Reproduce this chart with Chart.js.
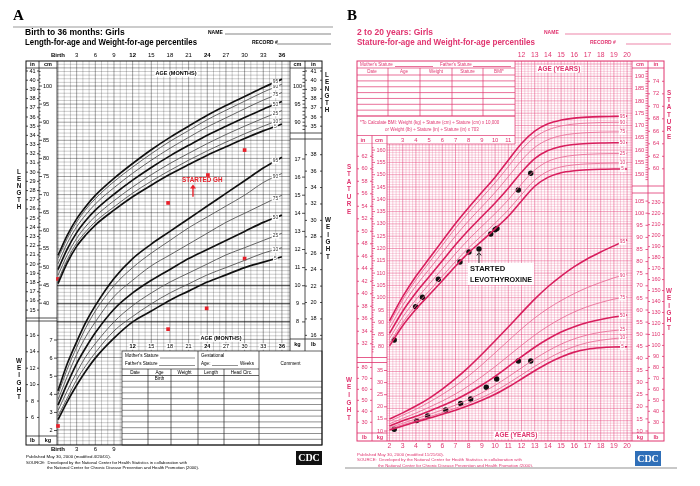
<!DOCTYPE html>
<html>
<head>
<meta charset="utf-8">
<script src="https://cdn.jsdelivr.net/npm/chart.js@4"></script>
<style>
  body { margin: 0; background: #fff; width: 700px; height: 486px; position: relative; overflow: hidden; }
  #chartA { position: absolute; left: 0; top: 0; }
  #chartB { position: absolute; left: 345px; top: 0; }
</style>
</head>
<body>
<canvas id="chartA" width="345" height="486"></canvas>
<canvas id="chartB" width="355" height="486"></canvas>
<script>
/* DATOS PANEL A: nacimiento a 36 meses, ninas */
const monthsA = [0, 1.5, 3, 4.5, 6, 9, 12, 15, 18, 21, 24, 27, 30, 33, 36];
const lenA5  = [45.4, 51.2, 55.7, 58.9, 61.6, 65.7, 69.4, 72.6, 75.6, 78.3, 80.9, 83.2, 85.5, 87.6, 89.5];
const lenA10 = [46.2, 52.1, 56.6, 59.8, 62.5, 66.6, 70.4, 73.7, 76.7, 79.5, 82.1, 84.5, 86.8, 88.9, 90.9];
const lenA25 = [47.7, 53.4, 57.9, 61.3, 64.0, 68.3, 72.1, 75.5, 78.6, 81.4, 84.1, 86.6, 88.9, 91.1, 93.2];
const lenA50 = [49.3, 55.0, 59.5, 62.9, 65.7, 70.1, 74.0, 77.5, 80.7, 83.6, 86.4, 88.9, 91.3, 93.6, 95.7];
const lenA75 = [50.9, 56.6, 61.1, 64.5, 67.4, 71.9, 75.9, 79.5, 82.8, 85.8, 88.7, 91.2, 93.7, 96.1, 98.2];
const lenA90 = [52.4, 57.9, 62.4, 66.0, 68.9, 73.6, 77.6, 81.3, 84.7, 87.7, 90.7, 93.3, 95.8, 98.3, 100.5];
const lenA95 = [53.2, 58.8, 63.3, 66.8, 69.8, 74.5, 78.6, 82.4, 85.8, 88.9, 91.9, 94.6, 97.1, 99.6, 101.9];

const wtA5  = [2.6, 3.6, 4.5, 5.3, 6.0, 7.1, 8.0, 8.6, 9.2, 9.7, 10.2, 10.6, 11.0, 11.3, 11.6];
const wtA10 = [2.8, 3.8, 4.8, 5.6, 6.3, 7.5, 8.3, 9.0, 9.6, 10.1, 10.6, 11.0, 11.4, 11.8, 12.1];
const wtA25 = [3.1, 4.2, 5.2, 6.1, 6.8, 8.0, 8.9, 9.6, 10.2, 10.7, 11.2, 11.7, 12.1, 12.5, 12.9];
const wtA50 = [3.4, 4.6, 5.7, 6.6, 7.4, 8.7, 9.6, 10.3, 10.9, 11.5, 12.0, 12.5, 13.0, 13.5, 13.9];
const wtA75 = [3.7, 5.0, 6.2, 7.2, 8.0, 9.4, 10.3, 11.1, 11.7, 12.3, 12.9, 13.5, 14.0, 14.5, 15.0];
const wtA90 = [4.0, 5.4, 6.6, 7.7, 8.6, 10.0, 11.0, 11.8, 12.5, 13.2, 13.8, 14.4, 15.0, 15.7, 16.2];
const wtA95 = [4.2, 5.7, 6.9, 8.0, 8.9, 10.4, 11.5, 12.3, 13.0, 13.7, 14.4, 15.1, 15.8, 16.5, 17.1];

/* paciente A */
const ghLenMonths = [0, 17.7, 24.1, 30.0];
const ghLength    = [46.7, 67.7, 75.4, 82.3];
const ghWtMonths  = [0, 17.7, 23.9, 30.0];
const ghWeight    = [2.25, 7.6, 8.75, 11.5];

/* DATOS PANEL B: 2 a 20 anos, ninas */
const agesB = [2, 3, 4, 5, 6, 7, 8, 9, 10, 11, 12, 13, 14, 15, 16, 17, 18, 19, 20];
const stB5  = [80.4, 88.6, 95.3, 101.1, 106.9, 112.8, 118.3, 123.1, 128.0, 133.1, 139.3, 145.3, 148.9, 150.8, 151.6, 152.0, 152.2, 152.3, 152.3];
const stB10 = [81.5, 89.9, 96.8, 102.7, 108.7, 114.7, 120.3, 125.3, 130.3, 135.7, 141.9, 147.8, 151.4, 153.2, 154.0, 154.4, 154.6, 154.7, 154.7];
const stB25 = [83.4, 92.1, 99.2, 105.5, 111.7, 117.9, 123.7, 129.0, 134.2, 139.8, 146.2, 151.9, 155.4, 157.1, 157.9, 158.3, 158.5, 158.6, 158.6];
const stB50 = [85.5, 94.5, 102.0, 108.5, 115.0, 121.5, 127.5, 133.0, 138.5, 144.5, 151.0, 156.5, 159.8, 161.5, 162.3, 162.7, 162.9, 163.0, 163.0];
const stB75 = [87.6, 96.9, 104.8, 111.5, 118.3, 125.1, 131.3, 137.0, 142.8, 149.2, 155.8, 161.1, 164.2, 165.9, 166.7, 167.1, 167.3, 167.4, 167.4];
const stB90 = [89.5, 99.1, 107.2, 114.3, 121.3, 128.3, 134.7, 140.7, 146.7, 153.3, 160.1, 165.2, 168.2, 169.8, 170.6, 171.0, 171.2, 171.3, 171.3];
const stB95 = [90.6, 100.4, 108.7, 115.9, 123.1, 130.2, 136.7, 142.9, 149.0, 155.9, 162.7, 167.7, 170.7, 172.2, 173.0, 173.4, 173.6, 173.7, 173.8];

const wtB5  = [10.4, 12.1, 13.7, 15.3, 16.9, 18.6, 20.5, 22.7, 25.2, 28.2, 31.5, 34.9, 38.0, 40.6, 42.6, 43.8, 44.4, 44.7, 44.8];
const wtB10 = [10.8, 12.6, 14.2, 15.9, 17.6, 19.4, 21.5, 23.8, 26.5, 29.7, 33.2, 36.7, 39.9, 42.7, 44.9, 46.5, 47.5, 48.2, 48.6];
const wtB25 = [11.4, 13.2, 15.0, 16.8, 18.7, 20.7, 23.1, 25.8, 28.9, 32.4, 36.1, 39.8, 43.1, 45.9, 48.1, 49.7, 50.8, 51.5, 52.0];
const wtB50 = [12.1, 14.2, 16.1, 18.2, 20.4, 22.9, 25.8, 29.0, 32.6, 36.6, 40.7, 44.6, 48.0, 50.9, 53.1, 54.8, 56.1, 57.1, 57.9];
const wtB75 = [13.0, 15.2, 17.4, 19.8, 22.4, 25.3, 28.7, 32.5, 36.6, 41.0, 45.4, 49.6, 53.3, 56.5, 59.2, 61.4, 63.1, 64.5, 65.5];
const wtB90 = [14.0, 16.5, 19.0, 21.9, 25.1, 28.7, 32.8, 37.4, 42.3, 47.3, 52.2, 56.7, 60.6, 63.9, 66.8, 69.3, 71.4, 73.3, 74.9];
const wtB95 = [15.0, 17.5, 20.3, 23.5, 27.3, 31.6, 36.4, 41.7, 47.3, 53.0, 58.8, 64.5, 69.6, 74.0, 77.9, 81.2, 84.0, 86.5, 89.0];

/* paciente B */
const lvStAges   = [2.36, 3.98, 4.5, 5.7, 7.34, 8.02, 8.78, 9.67, 10.0, 10.14, 11.76, 12.7];
const lvStature  = [82.8, 96.3, 100.2, 107.5, 114.5, 118.6, 119.8, 125.9, 127.6, 128.1, 143.8, 150.6];
const lvWtAges   = [2.36, 4.06, 4.89, 6.26, 7.39, 8.15, 9.33, 10.12, 11.76, 12.7];
const lvWeight   = [10.7, 14.3, 16.2, 18.7, 21.4, 23.2, 28.1, 31.5, 38.9, 38.9];

const pctNames = ['5', '10', '25', '50', '75', '90', '95'];
const topMonthTicks = ['Birth', '3', '6', '9', '12', '15', '18', '21', '24', '27', '30', '33', '36'];
const yearTicks = ['2','3','4','5','6','7','8','9','10','11','12','13','14','15','16','17','18','19','20'];

const FONT = '"Liberation Sans", Arial, sans-serif';
const PINK = '#e0346f';
const PINK_DARK = '#d81f5e';
const PINK_SOFT = '#ea6f99';

/* UTILIDADES DE DIBUJO */
function seg(ctx, x0, y0, x1, y1) { ctx.beginPath(); ctx.moveTo(x0, y0); ctx.lineTo(x1, y1); ctx.stroke(); }
function txt(ctx, s, x, y, size, o = {}) {
  ctx.font = (o.bold ? 'bold ' : '') + size + 'px ' + (o.family || FONT);
  ctx.fillStyle = o.color || '#000';
  ctx.textAlign = o.align || 'left';
  ctx.textBaseline = 'middle';
  if (o.max) ctx.fillText(s, x, y, o.max); else ctx.fillText(s, x, y);
}
function boxTxt(ctx, s, x, y, size, o = {}) {
  ctx.font = (o.bold ? 'bold ' : '') + size + 'px ' + FONT;
  const w = ctx.measureText(s).width;
  const left = o.align === 'center' ? x - w / 2 : x;
  ctx.fillStyle = '#fff';
  ctx.fillRect(left - 1, y - size / 2 - 0.5, w + 2, size + 1);
  txt(ctx, s, x, y, size, o);
}
function vword(ctx, word, x, y0, step, size, color) {
  for (let i = 0; i < word.length; i++) txt(ctx, word[i], x, y0 + i * step, size, { bold: true, color, align: 'center' });
}
function pts(xs, ys) { return xs.map((x, i) => ({ x, y: ys[i] })); }
function curve(xs, ys, axis, color, width) {
  return { data: pts(xs, ys), yAxisID: axis, borderColor: color, borderWidth: width, pointRadius: 0,
           fill: false, cubicInterpolationMode: 'monotone' };
}
function marks(xs, ys, axis, style, color, r) {
  return { data: pts(xs, ys), yAxisID: axis, showLine: false, pointStyle: style, pointRadius: r,
           pointBackgroundColor: color, pointBorderColor: color, borderColor: color, pointBorderWidth: 0 };
}
function pctLabels(ctx, chart, from, count, size, color) {
  const sx = chart.scales.x;
  for (let i = 0; i < count; i++) {
    const ds = chart.data.datasets[from + i];
    const last = ds.data[ds.data.length - 1];
    const prev = ds.data[ds.data.length - 2];
    const sy = chart.scales[ds.yAxisID];
    const xv = last.x - (last.x - prev.x) * 0.35;
    const yv = last.y - (last.y - prev.y) * 0.35;
    boxTxt(ctx, pctNames[i], sx.getPixelForValue(xv), sy.getPixelForValue(yv), size, { align: 'center', color });
  }
}

/* ================= PANEL A ================= */
const gridA = {
  id: 'gridA',
  beforeDatasetsDraw(chart) {
    const ctx = chart.ctx;
    const sx = chart.scales.x, sl = chart.scales.yLen, sw = chart.scales.yWt;
    const X = v => sx.getPixelForValue(v), YL = v => sl.getPixelForValue(v), YW = v => sw.getPixelForValue(v);
    const T = 61, B = 445;
    ctx.save();
    ctx.fillStyle = '#fff';
    ctx.fillRect(26, T, 296, B - T);
    // rejilla
    ctx.lineWidth = 0.6;
    for (let c = 0; c <= 106; c++) {
      const y = YL(c);
      if (y < T || y > B) continue;
      ctx.strokeStyle = c % 5 === 0 ? 'rgba(0,0,0,0.62)' : 'rgba(0,0,0,0.34)';
      seg(ctx, 57, y, 290, y);
    }
    for (let m = 0; m <= 37; m++) {
      const x = X(m);
      ctx.strokeStyle = m % 3 === 0 ? 'rgba(0,0,0,0.6)' : 'rgba(0,0,0,0.34)';
      seg(ctx, x, T, x, B);
    }
    // lineas gruesas de kg en la zona de peso
    ctx.lineWidth = 1;
    ctx.strokeStyle = 'rgba(0,0,0,0.7)';
    [8, 9, 10].forEach(w => seg(ctx, 57, YW(w), 290, YW(w)));

    // columnas de etiquetas izquierda
    ctx.fillStyle = '#fff';
    ctx.fillRect(26, T, 31, B - T);
    ctx.fillRect(290, T, 32, 290 - T);
    ctx.strokeStyle = '#222';
    ctx.lineWidth = 0.8;
    seg(ctx, 39, T, 39, B);
    seg(ctx, 57, T, 57, B);
    seg(ctx, 26, 318, 57, 318);
    seg(ctx, 26, 321, 57, 321);
    seg(ctx, 26, 436, 57, 436);
    seg(ctx, 26, 68, 57, 68);
    for (let inch = 15; inch <= 41; inch++) {
      const y = YL(inch * 2.54);
      seg(ctx, 26, y, 28, y); seg(ctx, 37, y, 39, y);
      txt(ctx, String(inch), 32.5, y, 5.5, { align: 'center' });
    }
    for (let c = 40; c <= 104; c++) {
      const y = YL(c);
      seg(ctx, 39, y, c % 5 === 0 ? 42 : 40.5, y);
      if (c % 5 === 0 && c <= 100) txt(ctx, String(c), 43, y, 5.5);
    }
    for (let lb = 6; lb <= 16; lb += 2) {
      const y = YW(lb * 0.4536);
      seg(ctx, 26, y, 28, y); seg(ctx, 37, y, 39, y);
      txt(ctx, String(lb), 32.5, y, 5.5, { align: 'center' });
    }
    for (let kg = 2; kg <= 7; kg++) {
      const y = YW(kg);
      seg(ctx, 54, y, 57, y);
      txt(ctx, String(kg), 51, y, 5.5, { align: 'center' });
    }
    txt(ctx, 'in', 32.5, 64.5, 5.5, { bold: true, align: 'center' });
    txt(ctx, 'cm', 48, 64.5, 5.5, { bold: true, align: 'center' });
    txt(ctx, 'lb', 32.5, 440.5, 5.5, { bold: true, align: 'center' });
    txt(ctx, 'kg', 48, 440.5, 5.5, { bold: true, align: 'center' });

    // columnas de etiquetas derecha
    seg(ctx, 290, T, 290, 351);
    seg(ctx, 305, T, 305, 351);
    seg(ctx, 290, 68, 322, 68);
    seg(ctx, 290, 133, 322, 133);
    seg(ctx, 290, 139, 322, 139);
    seg(ctx, 290, 339, 322, 339);
    txt(ctx, 'cm', 297.5, 64.5, 5.5, { bold: true, align: 'center' });
    txt(ctx, 'in', 313.5, 64.5, 5.5, { bold: true, align: 'center' });
    for (let inch = 35; inch <= 41; inch++) {
      const y = YL(inch * 2.54);
      seg(ctx, 305, y, 307, y); seg(ctx, 320, y, 322, y);
      txt(ctx, String(inch), 313.5, y, 5.5, { align: 'center' });
    }
    for (let c = 88; c <= 104; c++) {
      const y = YL(c);
      if (y > 133) continue;
      seg(ctx, 302.5, y, 305, y);
      if (c % 5 === 0) txt(ctx, String(c), 297.5, y, 5.5, { align: 'center' });
    }
    for (let kg = 8; kg <= 17; kg++) {
      const y = YW(kg);
      seg(ctx, 302, y, 305, y);
      txt(ctx, String(kg), 297.5, y, 5.5, { align: 'center' });
    }
    for (let lb = 16; lb <= 38; lb += 2) {
      const y = YW(lb * 0.4536);
      if (y < 142 || y > 337) continue;
      seg(ctx, 305, y, 307, y); seg(ctx, 320, y, 322, y);
      txt(ctx, String(lb), 313.5, y, 5.5, { align: 'center' });
    }
    txt(ctx, 'kg', 297.5, 344.5, 5.5, { bold: true, align: 'center' });
    txt(ctx, 'lb', 313.5, 344.5, 5.5, { bold: true, align: 'center' });

    // caja de edad superior
    boxTxt(ctx, 'AGE (MONTHS)', 176, 73.5, 5.5, { bold: true, align: 'center' });
    boxTxt(ctx, 'AGE (MONTHS)', 221, 338.5, 5.5, { bold: true, align: 'center' });
    for (let m = 12; m <= 36; m += 3) boxTxt(ctx, String(m), X(m), 346.5, 5.5, { bold: m % 12 === 0, align: 'center' });

    // tabla inferior
    ctx.fillStyle = '#fff';
    ctx.fillRect(122, 351, 200, B - 351);
    ctx.strokeStyle = '#222';
    ctx.lineWidth = 0.7;
    ctx.strokeRect(122, 351, 200, B - 351);
    seg(ctx, 198, 351, 198, B);
    seg(ctx, 259, 351, 259, B);
    seg(ctx, 122, 369, 259, 369);
    seg(ctx, 122, 375.5, 259, 375.5);
    [148, 171, 224].forEach(x => seg(ctx, x, 369, x, B));
    ctx.lineWidth = 0.5;
    for (let y = 381.3; y < B; y += 5.8) seg(ctx, 122, y, 322, y);
    const small = 4.6;
    txt(ctx, "Mother's Stature", 125, 356, small);
    txt(ctx, "Father's Stature", 125, 363.5, small);
    seg(ctx, 160, 358, 195, 358); seg(ctx, 159, 365.5, 195, 365.5);
    txt(ctx, 'Gestational', 201, 356, small);
    txt(ctx, 'Age:', 201, 363.5, small);
    seg(ctx, 212, 365.5, 238, 365.5);
    txt(ctx, 'Weeks', 240, 363.5, small);
    txt(ctx, 'Comment', 290.5, 363.5, small, { align: 'center' });
    txt(ctx, 'Date', 135, 372.3, small, { align: 'center' });
    txt(ctx, 'Age', 159.5, 372.3, small, { align: 'center' });
    txt(ctx, 'Weight', 184.5, 372.3, small, { align: 'center' });
    txt(ctx, 'Length', 211, 372.3, small, { align: 'center' });
    txt(ctx, 'Head Circ.', 241.5, 372.3, small, { align: 'center' });
    txt(ctx, 'Birth', 159.5, 378.6, small, { align: 'center' });

    // marco
    ctx.lineWidth = 1;
    ctx.strokeStyle = '#111';
    ctx.strokeRect(26, T, 296, B - T);
    ctx.restore();
  },
  afterDatasetsDraw(chart) {
    const ctx = chart.ctx;
    const sx = chart.scales.x, sl = chart.scales.yLen;
    ctx.save();
    pctLabels(ctx, chart, 0, 7, 4.8, '#333');
    pctLabels(ctx, chart, 7, 7, 4.8, '#333');
    // anotacion GH
    txt(ctx, 'STARTED GH', sx.getPixelForValue(23.2), sl.getPixelForValue(73.9), 6.3, { bold: true, color: '#e8202a', align: 'center' });
    const ax = sx.getPixelForValue(21.7);
    const ay0 = sl.getPixelForValue(69.4), ay1 = sl.getPixelForValue(72.5);
    ctx.strokeStyle = '#e8202a'; ctx.fillStyle = '#e8202a'; ctx.lineWidth = 1.4;
    seg(ctx, ax, ay0, ax, ay1 + 2);
    ctx.beginPath(); ctx.moveTo(ax, ay1 - 1); ctx.lineTo(ax - 3, ay1 + 3); ctx.lineTo(ax + 3, ay1 + 3); ctx.closePath(); ctx.fill();

    // eje superior de edad
    topMonthTicks.forEach((t, i) => txt(ctx, t, sx.getPixelForValue(i * 3), 55.5, 6, { bold: i % 4 === 0, align: 'center' }));
    ['Birth', '3', '6', '9'].forEach((t, i) => txt(ctx, t, sx.getPixelForValue(i * 3), 449, 6, { bold: i === 0, align: 'center' }));

    // encabezado
    txt(ctx, 'A', 13, 16, 15, { bold: true, family: '"Liberation Serif", "Times New Roman", serif' });
    ctx.strokeStyle = '#999'; ctx.lineWidth = 1;
    seg(ctx, 13, 27, 333, 27);
    txt(ctx, 'Birth to 36 months: Girls', 25, 32.5, 8.5, { bold: true, max: 112 });
    txt(ctx, 'Length-for-age and Weight-for-age percentiles', 25, 42.5, 8.5, { bold: true, max: 172 });
    txt(ctx, 'NAME', 208, 32.5, 5, { bold: true });
    txt(ctx, 'RECORD #', 252, 42.5, 5, { bold: true });
    ctx.strokeStyle = '#333'; ctx.lineWidth = 0.6;
    seg(ctx, 225, 34, 331, 34);
    seg(ctx, 277, 44, 331, 44);
    // letras verticales
    vword(ctx, 'LENGTH', 19, 172, 7, 6.3, '#111');
    vword(ctx, 'WEIGHT', 19, 361, 7.3, 6.3, '#111');
    vword(ctx, 'LENGTH', 327, 75, 7, 6.3, '#111');
    vword(ctx, 'WEIGHT', 328, 220, 7.4, 6.3, '#111');
    // pie
    txt(ctx, 'Published May 30, 2000 (modified 4/20/01).', 26, 457, 4.4, { max: 92 });
    txt(ctx, 'SOURCE:  Developed by the National Center for Health Statistics in collaboration with', 26, 462.5, 4.4, { max: 161 });
    txt(ctx, 'the National Center for Chronic Disease Prevention and Health Promotion (2000).', 47, 467.5, 4.4, { max: 152 });
    ctx.fillStyle = '#111';
    ctx.fillRect(296, 451, 26, 14);
    txt(ctx, 'CDC', 309, 458.5, 10, { bold: true, color: '#fff', align: 'center', family: '"Liberation Serif", serif' });
    ctx.restore();
  }
};

const lenAll = [lenA5, lenA10, lenA25, lenA50, lenA75, lenA90, lenA95];
const wtAll = [wtA5, wtA10, wtA25, wtA50, wtA75, wtA90, wtA95];
const heavy = i => i === 0 || i === 3 || i === 6;

const dsA = [];
lenAll.forEach((ys, i) => dsA.push(curve(monthsA, ys, 'yLen', heavy(i) ? '#111' : '#555', heavy(i) ? 1.7 : 0.9)));
wtAll.forEach((ys, i) => dsA.push(curve(monthsA, ys, 'yWt', heavy(i) ? '#111' : '#555', heavy(i) ? 1.7 : 0.9)));
dsA.push(marks(ghLenMonths, ghLength, 'yLen', 'rect', '#e8202a', 2.6));
dsA.push(marks(ghWtMonths, ghWeight, 'yWt', 'rect', '#e8202a', 2.6));

new Chart(document.getElementById('chartA'), {
  type: 'line',
  data: { datasets: dsA },
  options: {
    responsive: false,
    animation: false,
    events: [],
    layout: { padding: { left: 26, right: 23, top: 61, bottom: 41 } },
    plugins: { legend: { display: false }, tooltip: { enabled: false } },
    scales: {
      x: { type: 'linear', min: -5.145, max: 42.444, display: false },
      yLen: { type: 'linear', position: 'left', min: 0.83, max: 106.906, display: false },
      yWt: { type: 'linear', position: 'right', min: 1.2, max: 22.414, display: false }
    }
  },
  plugins: [gridA]
});

/* ================= PANEL B ================= */
const OX = 345; // desplazamiento del lienzo B en la pagina
const gridB = {
  id: 'gridB',
  beforeDatasetsDraw(chart) {
    const ctx = chart.ctx;
    const sx = chart.scales.x, ss = chart.scales.yS, sw = chart.scales.yW;
    const X = v => sx.getPixelForValue(v), YS = v => ss.getPixelForValue(v), YW = v => sw.getPixelForValue(v);
    const p = v => v - OX;
    const T = 61, B = 441, L = p(357), R = p(664), GL = p(387), GR = p(632);
    ctx.save();
    ctx.fillStyle = '#fff';
    ctx.fillRect(L, T, R - L, B - T);
    // rejilla rosa
    ctx.lineWidth = 0.6;
    for (let c = 42; c <= 196; c++) {
      const y = YS(c);
      ctx.strokeStyle = c % 5 === 0 ? 'rgba(226,52,112,0.75)' : 'rgba(232,80,132,0.42)';
      seg(ctx, GL, y, GR, y);
    }
    for (let k = 0; k <= 74; k++) {
      const a = 1.75 + k * 0.25;
      const x = X(a);
      ctx.strokeStyle = Number.isInteger(a) ? 'rgba(226,52,112,0.8)' : 'rgba(232,80,132,0.45)';
      seg(ctx, x, T, x, B);
    }
    // tabla superior
    const tR = p(515);
    ctx.fillStyle = '#fff';
    ctx.fillRect(L, T, tR - L, 144 - T);
    ctx.strokeStyle = PINK; ctx.lineWidth = 0.7;
    seg(ctx, L, 68, tR, 68);
    seg(ctx, L, 75, tR, 75);
    for (let y = 80.9; y < 116; y += 5.85) seg(ctx, L, y, tR, y);
    seg(ctx, L, 116, tR, 116);
    [388, 420, 452, 483].forEach(x => seg(ctx, p(x), 68, p(x), 116));
    seg(ctx, L, 135.5, tR, 135.5);
    seg(ctx, L, 144, tR, 144);
    seg(ctx, tR, T, tR, 144);
    const sm = 4.5;
    txt(ctx, "Mother's Stature", p(360), 64.6, sm, { color: PINK });
    seg(ctx, p(395), 66.5, p(433), 66.5);
    txt(ctx, "Father's Stature", p(440), 64.6, sm, { color: PINK });
    seg(ctx, p(473), 66.5, p(511), 66.5);
    txt(ctx, 'Date', p(372), 71.6, sm, { color: PINK, align: 'center' });
    txt(ctx, 'Age', p(404), 71.6, sm, { color: PINK, align: 'center' });
    txt(ctx, 'Weight', p(436), 71.6, sm, { color: PINK, align: 'center' });
    txt(ctx, 'Stature', p(467.5), 71.6, sm, { color: PINK, align: 'center' });
    txt(ctx, 'BMI*', p(499), 71.6, sm, { color: PINK, align: 'center' });
    txt(ctx, '*To Calculate BMI: Weight (kg) ÷ Stature (cm) ÷ Stature (cm) x 10,000', p(360), 122.5, sm, { color: PINK, max: 150 });
    txt(ctx, 'or Weight (lb) ÷ Stature (in) ÷ Stature (in) x 703', p(385), 129.5, sm, { color: PINK, max: 102 });
    // fila de edades bajo la tabla
    txt(ctx, 'in', p(363), 140, 5.5, { bold: true, color: PINK, align: 'center' });
    txt(ctx, 'cm', p(379), 140, 5.5, { bold: true, color: PINK, align: 'center' });
    for (let a = 3; a <= 11; a++) txt(ctx, String(a), X(a), 140, 5.8, { color: PINK, align: 'center' });

    // columnas izquierda
    ctx.fillStyle = '#fff';
    ctx.fillRect(L, 144, GL - L, B - 144);
    ctx.strokeStyle = PINK; ctx.lineWidth = 0.8;
    seg(ctx, p(372), 135.5, p(372), B);
    seg(ctx, GL, 135.5, GL, B);
    seg(ctx, L, 357.5, GL, 357.5);
    seg(ctx, L, 362.5, GL, 362.5);
    seg(ctx, L, 433, GL, 433);
    for (let inch = 30; inch <= 63; inch++) {
      const y = YS(inch * 2.54);
      if (y < 146 || y > 356) continue;
      if (inch % 2 === 0) {
        seg(ctx, L, y, L + 2, y); seg(ctx, p(370), y, p(372), y);
        txt(ctx, String(inch), p(364.5), y, 5.5, { color: PINK, align: 'center' });
      }
    }
    for (let c = 78; c <= 163; c++) {
      const y = YS(c);
      if (y < 146 || y > 356) continue;
      seg(ctx, p(372), y, p(c % 5 === 0 ? 375 : 373.5), y);
      if (c % 5 === 0) txt(ctx, String(c), p(381), y, 5.5, { color: PINK, align: 'center' });
    }
    for (let lb = 30; lb <= 80; lb += 10) {
      const y = YW(lb * 0.4536);
      seg(ctx, L, y, L + 2, y); seg(ctx, p(370), y, p(372), y);
      txt(ctx, String(lb), p(364.5), y, 5.5, { color: PINK, align: 'center' });
    }
    for (let kg = 10; kg <= 35; kg += 5) {
      const y = YW(kg);
      seg(ctx, p(384), y, GL, y);
      txt(ctx, String(kg), p(380), y, 5.5, { color: PINK, align: 'center' });
    }
    txt(ctx, 'lb', p(364.5), 437, 5.5, { bold: true, color: PINK, align: 'center' });
    txt(ctx, 'kg', p(380), 437, 5.5, { bold: true, color: PINK, align: 'center' });

    // columnas derecha
    ctx.fillStyle = '#fff';
    ctx.fillRect(GR, T, R - GR, B - T);
    ctx.strokeStyle = PINK;
    seg(ctx, GR, T, GR, B);
    seg(ctx, p(648), T, p(648), B);
    seg(ctx, GR, 68, R, 68);
    seg(ctx, GR, 186, R, 186);
    seg(ctx, GR, 193, R, 193);
    seg(ctx, GR, 433, R, 433);
    txt(ctx, 'cm', p(640), 64.6, 5.5, { bold: true, color: PINK, align: 'center' });
    txt(ctx, 'in', p(656), 64.6, 5.5, { bold: true, color: PINK, align: 'center' });
    for (let c = 148; c <= 194; c++) {
      const y = YS(c);
      if (y < 70 || y > 184) continue;
      seg(ctx, p(645.5), y, p(648), y);
      if (c % 5 === 0) txt(ctx, String(c), p(639.5), y, 5.8, { color: PINK, align: 'center' });
    }
    for (let inch = 59; inch <= 77; inch++) {
      const y = YS(inch * 2.54);
      if (y < 70 || y > 184) continue;
      if (inch % 2 === 0) {
        seg(ctx, p(648), y, p(650), y); seg(ctx, R - 2, y, R, y);
        txt(ctx, String(inch), p(656), y, 5.8, { color: PINK, align: 'center' });
      }
    }
    for (let kg = 10; kg <= 105; kg += 5) {
      const y = YW(kg);
      seg(ctx, p(645.5), y, p(648), y);
      txt(ctx, String(kg), p(639.5), y, 5.8, { color: PINK, align: 'center' });
    }
    for (let lb = 30; lb <= 230; lb += 10) {
      const y = YW(lb * 0.4536);
      if (y < 195) continue;
      seg(ctx, p(648), y, p(650), y); seg(ctx, R - 2, y, R, y);
      txt(ctx, String(lb), p(656), y, 5.5, { color: PINK, align: 'center' });
    }
    txt(ctx, 'kg', p(640), 437, 5.5, { bold: true, color: PINK, align: 'center' });
    txt(ctx, 'lb', p(656), 437, 5.5, { bold: true, color: PINK, align: 'center' });

    boxTxt(ctx, 'AGE (YEARS)', p(559), 68.8, 6.5, { bold: true, color: PINK, align: 'center' });
    boxTxt(ctx, 'AGE (YEARS)', p(516), 435, 6.5, { bold: true, color: PINK, align: 'center' });

    ctx.lineWidth = 1;
    ctx.strokeStyle = PINK;
    ctx.strokeRect(L, T, R - L, B - T);
    ctx.restore();
  },
  afterDatasetsDraw(chart) {
    const ctx = chart.ctx;
    const sx = chart.scales.x, ss = chart.scales.yS;
    const p = v => v - OX;
    ctx.save();
    pctLabels(ctx, chart, 0, 7, 4.8, PINK);
    pctLabels(ctx, chart, 7, 7, 4.8, PINK);
    // anotacion levotiroxina
    const ax = sx.getPixelForValue(8.78);
    const tip = ss.getPixelForValue(119.8) + 3.5;
    ctx.strokeStyle = '#111'; ctx.fillStyle = '#111'; ctx.lineWidth = 0.9;
    seg(ctx, ax, tip + 1, ax, tip + 11);
    ctx.beginPath(); ctx.moveTo(ax - 2.2, tip + 3); ctx.lineTo(ax, tip); ctx.lineTo(ax + 2.2, tip + 3); ctx.stroke();
    ctx.fillStyle = '#fff';
    ctx.fillRect(p(468), 263, 66, 22);
    txt(ctx, 'STARTED', p(470), 268.5, 7.6, { bold: true, color: '#111' });
    txt(ctx, 'LEVOTHYROXINE', p(470), 279.5, 7.6, { bold: true, color: '#111', max: 62 });

    // ejes de edad
    for (let a = 12; a <= 20; a++) txt(ctx, String(a), sx.getPixelForValue(a), 55.5, 6.8, { color: PINK, align: 'center' });
    yearTicks.forEach(t => txt(ctx, t, sx.getPixelForValue(Number(t)), 446, 6.8, { color: PINK, align: 'center' }));

    // encabezado
    txt(ctx, 'B', p(347), 16, 15, { bold: true, family: '"Liberation Serif", "Times New Roman", serif' });
    txt(ctx, '2 to 20 years: Girls', p(357), 32.5, 8.5, { bold: true, color: PINK, max: 88 });
    txt(ctx, 'Stature-for-age and Weight-for-age percentiles', p(357), 42.5, 8.5, { bold: true, color: PINK, max: 178 });
    txt(ctx, 'NAME', p(544), 32.5, 5, { bold: true, color: PINK });
    txt(ctx, 'RECORD #', p(590), 42.5, 5, { bold: true, color: PINK });
    ctx.strokeStyle = PINK; ctx.lineWidth = 0.6;
    seg(ctx, p(565), 34, p(671), 34);
    seg(ctx, p(626), 44, p(671), 44);
    vword(ctx, 'STATURE', p(349), 167, 7.5, 6.3, PINK);
    vword(ctx, 'WEIGHT', p(349), 380, 7.6, 6.3, PINK);
    vword(ctx, 'STATURE', p(669), 93, 7.3, 6.3, PINK);
    vword(ctx, 'WEIGHT', p(669), 291, 7.4, 6.3, PINK);
    // pie
    txt(ctx, 'Published May 30, 2000 (modified 11/21/00).', p(357), 454.5, 4.4, { color: PINK, max: 92 });
    txt(ctx, 'SOURCE:  Developed by the National Center for Health Statistics in collaboration with', p(357), 460, 4.4, { color: PINK, max: 165 });
    txt(ctx, 'the National Center for Chronic Disease Prevention and Health Promotion (2000).', p(378), 465.3, 4.4, { color: PINK, max: 155 });
    ctx.fillStyle = '#2f6fb8';
    ctx.fillRect(p(635), 451, 26, 15);
    txt(ctx, 'CDC', p(648), 459, 10, { bold: true, color: '#fff', align: 'center', family: '"Liberation Serif", serif' });
    ctx.strokeStyle = '#c8c8c8'; ctx.lineWidth = 2;
    seg(ctx, p(343), 468, p(677), 468);
    ctx.restore();
  }
};

const stAll = [stB5, stB10, stB25, stB50, stB75, stB90, stB95];
const wbAll = [wtB5, wtB10, wtB25, wtB50, wtB75, wtB90, wtB95];
const dsB = [];
stAll.forEach((ys, i) => dsB.push(curve(agesB, ys, 'yS', heavy(i) ? PINK_DARK : PINK_SOFT, heavy(i) ? 1.6 : 0.9)));
wbAll.forEach((ys, i) => dsB.push(curve(agesB, ys, 'yW', heavy(i) ? PINK_DARK : PINK_SOFT, heavy(i) ? 1.6 : 0.9)));
dsB.push(marks(lvStAges, lvStature, 'yS', 'circle', '#111', 2.7));
dsB.push(marks(lvWtAges, lvWeight, 'yW', 'circle', '#111', 2.7));

new Chart(document.getElementById('chartB'), {
  type: 'line',
  data: { datasets: dsB },
  options: {
    responsive: false,
    animation: false,
    events: [],
    layout: { padding: { left: 12, right: 36, top: 61, bottom: 45 } },
    plugins: { legend: { display: false }, tooltip: { enabled: false } },
    scales: {
      x: { type: 'linear', min: -0.4621, max: 22.795, display: false },
      yS: { type: 'linear', position: 'left', min: 41.748, max: 196.22, display: false },
      yW: { type: 'linear', position: 'right', min: 5.868, max: 162.893, display: false }
    }
  },
  plugins: [gridB]
});
</script>
</body>
</html>
